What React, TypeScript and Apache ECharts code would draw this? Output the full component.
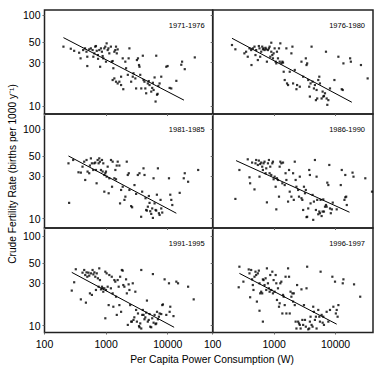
import React, { useEffect, useRef } from "react";
import * as echarts from "echarts";

const periods = ["1971-1976", "1976-1980", "1981-1985", "1986-1990", "1991-1995", "1996-1997"];
const xTickValues = [100, 1000, 10000];
const yTickValues = [10, 30, 50, 100];

// [power consumption W, crude fertility rate births per 1000 per year]
const pts1971: [number, number][] = [
  [203, 44.9], [267, 42.6], [303, 40.4], [365, 38.5], [385, 33.4], [424, 41.2], [455, 43], [480, 39.5], [495, 34.8], [495, 27.5],
  [532, 41.9], [565, 43], [603, 41.2], [620, 34.8], [645, 37.9], [665, 44.9], [684, 45.6], [705, 40.4], [735, 36.3], [740, 33.0],
  [774, 41.2], [800, 27], [825, 43], [855, 39.5], [878, 35.4], [900, 33.4], [935, 43], [970, 44.9], [995, 30.7], [1020, 48.8],
  [1060, 41.2], [1090, 43], [1127, 37.9], [1195, 44.9], [1235, 30.7], [1277, 31.2], [1310, 26], [1360, 39.5], [1410, 41.2], [1448, 44.9],
  [1490, 37.9], [1540, 41.9], [1277, 19.3], [1360, 20.1], [1448, 18.5], [1540, 17.7], [1641, 18.5], [1750, 17], [1900, 15.3], [1750, 21],
  [1860, 33.4], [2050, 30.7], [2108, 26], [2250, 22], [2320, 33.4], [2389, 43], [2550, 18.5], [2708, 21], [2780, 22.9], [2980, 20.1],
  [3069, 15.6], [3160, 32], [3290, 33.4], [3420, 28.2], [3480, 27], [3580, 22], [3720, 15.6], [3944, 35.7], [4050, 19.3], [4190, 18.5],
  [4330, 15.6], [4470, 13.8], [4750, 17.7], [4920, 18.8], [5068, 17], [5400, 14.4], [5600, 15.8], [5743, 18], [5900, 15], [6120, 20.6],
  [6350, 11.2], [6509, 35.7], [6700, 13.3], [6850, 13.6], [7050, 16.6], [7379, 17.7], [7850, 21], [9480, 27], [9950, 27.5], [10740, 15.8],
  [11420, 15.6], [13800, 18.9], [16600, 28.4], [17100, 30.7], [18900, 25.4], [27500, 34.2],
];
const pts1976: [number, number][] = [
  [206, 46.8], [234, 42], [328, 37.9], [350, 39.5], [372, 34.8], [397, 43], [423, 41.2], [428, 28.2], [450, 43], [479, 44.9],
  [497, 36.3], [510, 41.2], [543, 32], [564, 45.6], [578, 43], [593, 34.8], [616, 39.5], [640, 44.9], [656, 42], [673, 43],
  [698, 41.2], [726, 43.6], [744, 42], [763, 30.7], [793, 41.2], [823, 43], [844, 44.9], [865, 34.8], [899, 49.6], [899, 39.5],
  [934, 36.3], [957, 33.4], [981, 37.9], [1019, 43], [1059, 30.7], [1085, 29.4], [1112, 39.5], [1155, 33.4], [1200, 43], [1231, 30.7],
  [1262, 48.8], [1310, 29.4], [1361, 30.7], [1396, 30], [1431, 23.8], [1487, 19.3], [1583, 43], [1622, 17.7], [1686, 17], [1795, 23.8],
  [1910, 37.9], [1985, 44.9], [2036, 17.7], [2168, 24.9], [2308, 15.3], [2367, 17], [2618, 16.3], [2786, 30.7], [2969, 21], [3280, 33.4],
  [3367, 28.2], [3450, 29.4], [3590, 19.3], [3725, 16.3], [3819, 12.7], [3918, 17.7], [4070, 44.9], [4225, 18.5], [4445, 15.6], [4615, 17],
  [4790, 11.6], [4910, 15], [5030, 12.1], [5230, 19.3], [5435, 21], [5570, 17.7], [5930, 12.1], [6160, 14.4], [6315, 12.7], [6475, 12.9],
  [6730, 13.8], [6985, 39.5], [7160, 12.1], [7340, 10.3], [7630, 11.6], [8120, 15.6], [9580, 19.3], [11120, 34.8], [12620, 15.3], [13100, 15],
  [13430, 29.4], [17270, 33.4], [17750, 30.7], [25900, 28.2], [33300, 20.1],
];
const pts1981: [number, number][] = [
  [245, 41.4], [251, 15], [292, 45.1], [356, 32.9], [389, 32.6], [414, 38], [441, 43.2], [458, 27], [481, 45.1], [500, 33.5],
  [532, 32.1], [546, 39.1], [566, 47], [588, 41.4], [618, 34.9], [642, 41.4], [667, 42.2], [684, 34.9], [701, 24.8], [728, 45.1],
  [756, 41.4], [774, 47], [794, 43.2], [825, 34.9], [857, 45.1], [878, 33.5], [900, 41.4], [935, 30.7], [971, 32.1], [995, 33.5],
  [1020, 29.4], [935, 20], [1060, 38], [1100, 19.2], [1127, 28.2], [1200, 45.1], [1248, 22.7], [1277, 43.2], [1361, 28.2], [1413, 34.9],
  [1448, 27.5], [1486, 39.1], [1543, 43.2], [1641, 39.1], [1683, 14.8], [1750, 20.9], [1860, 22.7], [1983, 16.2], [2055, 17.6], [2163, 43.2],
  [2245, 30.7], [2333, 32.1], [2389, 20.9], [2548, 13.8], [2645, 13.4], [2887, 23.7], [3069, 18.9], [3268, 30.7], [3480, 32.1], [3705, 10.5],
  [3846, 20], [4045, 36.4], [4200, 30.7], [4363, 16.9], [4470, 12.5], [4585, 12.3], [4760, 13.6], [4940, 17.9], [5068, 15], [5200, 12.1],
  [5400, 11.3], [5600, 13], [5743, 10.2], [5890, 28.2], [6120, 14.8], [6350, 12.5], [6509, 12.3], [6670, 18.5], [6930, 36.4], [7190, 11.5],
  [7379, 11], [7650, 16.2], [7850, 13], [8150, 11.7], [10480, 28.2], [11000, 18.5], [11430, 16.2], [11860, 14.2], [15640, 19.4], [18200, 28.2],
  [18900, 32.1], [21430, 25.8], [31200, 34.9],
];
const pts1986: [number, number][] = [
  [234, 16.6], [272, 34.9], [372, 45.9], [397, 28.9], [407, 24.8], [438, 42.2], [479, 21.2], [497, 41.4], [510, 45.1], [543, 39.7],
  [564, 44.4], [578, 29.4], [593, 40.7], [616, 42.2], [640, 38], [656, 34.9], [673, 41.4], [698, 43.2], [726, 32.1], [744, 36.4],
  [763, 15.2], [793, 41.4], [823, 45.1], [844, 32.1], [865, 38], [899, 30.7], [934, 41.4], [957, 43.2], [981, 27.5], [1019, 29.4],
  [1059, 22.7], [1085, 12.7], [1112, 28.2], [1155, 27], [1200, 17.6], [1231, 38], [1262, 43.2], [1310, 41.4], [1361, 24.8], [1396, 42.2],
  [1487, 23.7], [1535, 32.1], [1583, 27], [1686, 15.5], [1750, 34.9], [1795, 20], [1910, 17.6], [2036, 32.1], [2090, 16.2], [2168, 43.2],
  [2240, 27], [2308, 22.7], [2460, 20.9], [2540, 17.6], [2618, 29.4], [2786, 16.9], [2880, 16.2], [2969, 12.5], [3060, 22.7], [3180, 19.2],
  [3280, 20.9], [3367, 10.4], [3450, 10.5], [3590, 13], [3725, 34.9], [3819, 30.7], [3918, 14.8], [4225, 18.4], [4330, 9.7], [4445, 15.5],
  [4615, 45.1], [4790, 12.5], [4910, 29.4], [5030, 16.2], [5230, 11.2], [5435, 12], [5570, 11.5], [5710, 16.2], [5930, 10.7], [6160, 12],
  [6315, 16.4], [6475, 12], [6730, 13.6], [6985, 14.2], [7160, 13.6], [7340, 25.2], [7630, 23.7], [7910, 39.7], [8120, 13], [8370, 11.5],
  [8700, 12.7], [9000, 15.1], [10440, 12.7], [12160, 23.7], [12620, 34.9], [13950, 16.2], [14400, 17.3], [14900, 17.6], [15230, 14.2], [14400, 30.7],
  [18900, 32.6], [19590, 29.4], [30500, 28.2], [39200, 20],
];
const pts1991: [number, number][] = [
  [277, 24.7], [303, 30.6], [322, 42.8], [389, 19.7], [414, 39.2], [441, 42], [458, 36.9], [470, 18.1], [481, 39.5], [495, 35.3],
  [516, 39.2], [532, 36.3], [546, 23], [566, 38.5], [588, 22.1], [603, 42], [620, 37.5], [645, 39.5], [667, 35.3], [684, 25.1],
  [705, 38.5], [735, 33.9], [756, 27.3], [774, 43.8], [794, 32.4], [825, 25.5], [857, 27.3], [878, 26.2], [900, 24], [935, 26.2],
  [971, 40.2], [971, 12.1], [995, 25.1], [1020, 38.5], [1060, 27.3], [1100, 17], [1127, 36.9], [1195, 26.2], [1235, 35.3], [1277, 23],
  [1310, 16.3], [1360, 32.4], [1410, 31.1], [1448, 21.1], [1490, 13.2], [1540, 32.4], [1600, 27.3], [1641, 17], [1690, 35.3], [1750, 14.3],
  [1800, 42], [1860, 41.3], [1900, 28.5], [1980, 27.3], [2108, 33], [2170, 23], [2250, 10.2], [2320, 29], [2389, 25.1], [2460, 17],
  [2550, 11.1], [2620, 11.1], [2708, 29.8], [2780, 11.6], [2870, 12.4], [2980, 24], [3069, 15], [3160, 11.1], [3290, 13.7], [3420, 9.9],
  [3480, 9.6], [3580, 10.6], [3720, 9.3], [3720, 42], [3860, 13.2], [3944, 15], [4050, 13.2], [4190, 11.8], [4330, 12.4], [4470, 14],
  [4600, 19.1], [4750, 11.1], [4920, 11.6], [5068, 13.5], [5200, 9.75], [5400, 9.6], [5600, 12.1], [5743, 37.8], [5900, 10.8], [6120, 13.2],
  [6350, 10.4], [6509, 10.6], [6700, 14.3], [6930, 11.8], [7190, 12.6], [7379, 13.7], [7850, 13.5], [8150, 17], [8363, 17.3], [8900, 33],
  [9480, 13.2], [10480, 29.8], [10740, 14.3], [11000, 16.3], [12400, 12.8], [13800, 31.1], [14700, 29.8], [21430, 27.3], [26400, 19.7],
];
const pts1996: [number, number][] = [
  [265, 26.9], [272, 45.7], [316, 31.1], [386, 42.6], [397, 38.5], [407, 20.8], [423, 42], [438, 33], [450, 28.5], [461, 25.1],
  [479, 35.3], [497, 40.2], [510, 36.9], [524, 18.6], [543, 38.5], [564, 41.3], [578, 29.8], [578, 14.7], [593, 23], [616, 24],
  [640, 23], [656, 11.1], [656, 33], [673, 32.4], [698, 28.5], [726, 33.9], [744, 25.1], [763, 43.8], [793, 29.8], [823, 26.2],
  [844, 24], [865, 36.9], [899, 25.1], [934, 40.2], [957, 23], [981, 32.4], [1019, 24], [1059, 36.9], [1085, 29.8], [1112, 19.4],
  [1155, 26.2], [1200, 16.3], [1231, 17.8], [1262, 29.8], [1310, 31.1], [1361, 13.7], [1396, 22.1], [1431, 21.1], [1487, 17], [1535, 35.3],
  [1583, 13.7], [1686, 43.8], [1750, 35.3], [1795, 13.7], [1850, 24], [1910, 21.1], [1985, 23], [2036, 18.6], [2090, 23], [2168, 17],
  [2240, 11.1], [2308, 9.3], [2367, 28.5], [2460, 11.1], [2540, 10.6], [2618, 10.2], [2700, 9.3], [2786, 25.5], [2880, 11.6], [2969, 10.2],
  [3060, 17], [3180, 11.6], [3280, 9.75], [3367, 26.2], [3450, 45.7], [3590, 9.1], [3725, 9.3], [3819, 11.1], [3918, 12.6], [4070, 10.2],
  [4225, 9.75], [4330, 16.3], [4445, 14.3], [4615, 11.6], [4790, 12.6], [4910, 9.3], [5230, 15], [5435, 12.6], [5570, 11.1], [5710, 40.2],
  [5930, 13.2], [6160, 10.8], [6315, 12.6], [6475, 10.2], [7160, 14.3], [7630, 11.1], [8120, 15], [8870, 35.3], [9210, 16.3], [9800, 31.1],
  [10110, 13.7], [10440, 15], [10800, 12.6], [11120, 17], [13100, 29.8], [13430, 33], [20000, 29], [25200, 21.1],
];

// regression lines: [W, rate] at the two ends
const fit1971: [number, number][] = [[203, 56.4], [18360, 11.6]];
const fit1976: [number, number][] = [[206, 55.5], [18400, 11.0]];
const fit1981: [number, number][] = [[245, 50], [13800, 11.5]];
const fit1986: [number, number][] = [[240, 44.4], [16870, 11.8]];
const fit1991: [number, number][] = [[277, 39.5], [12700, 9.6]];
const fit1996: [number, number][] = [[272, 38.5], [10440, 10.4]];

const panelPoints = [pts1971, pts1976, pts1981, pts1986, pts1991, pts1996];
const panelFits = [fit1971, fit1976, fit1981, fit1986, fit1991, fit1996];

// axis extents
const colXMax = [53700, 40700];
const rowYRange: [number, number][] = [[8.17, 113.5], [7.87, 146.9], [8.39, 123.9]];

// layout
const WIDTH = 383;
const HEIGHT = 371;
const colEdges = [44.5, 212.7, 373];
const rowEdges = [10, 114, 228, 332.5];
const FONT = 'Arial, "Liberation Sans", Helvetica, sans-serif';

const lg = (v: number) => Math.log10(v);
const fmt = (v: number) => String(Math.round(Math.pow(10, v)));

function buildOption() {
  const grid: any[] = [];
  const xAxis: any[] = [];
  const yAxis: any[] = [];
  const series: any[] = [];
  const graphic: any[] = [];
  for (let i = 0; i < 6; i++) {
    const r = Math.floor(i / 2);
    const c = i % 2;
    grid.push({
      left: colEdges[c],
      top: rowEdges[r],
      width: colEdges[c + 1] - colEdges[c],
      height: rowEdges[r + 1] - rowEdges[r],
      show: true,
      borderColor: "#222",
      borderWidth: 1.5,
      backgroundColor: "transparent",
      containLabel: false,
      outerBoundsMode: "none",
    });
    const xt = xTickValues.map(lg);
    const yt = yTickValues.map(lg);
    xAxis.push({
      type: "value",
      gridIndex: i,
      min: 2,
      max: lg(colXMax[c]),
      axisLine: { show: false },
      splitLine: { show: false },
      axisTick: { show: true, length: 2, customValues: xt, lineStyle: { color: "#666", width: 1 } },
      axisLabel: {
        show: r === 2,
        customValues: xt,
        formatter: fmt,
        fontSize: 10.5,
        fontFamily: FONT,
        color: "#000",
        margin: 6,
        hideOverlap: false,
        showMinLabel: true,
      },
    });
    yAxis.push({
      type: "value",
      gridIndex: i,
      min: lg(rowYRange[r][0]),
      max: lg(rowYRange[r][1]),
      axisLine: { show: false },
      splitLine: { show: false },
      axisTick: { show: true, length: 2, customValues: yt, lineStyle: { color: "#666", width: 1 } },
      axisLabel: {
        show: c === 0,
        customValues: yt,
        formatter: fmt,
        fontSize: 10.5,
        fontFamily: FONT,
        color: "#000",
        margin: 4,
        hideOverlap: false,
      },
    });
    series.push({
      type: "scatter",
      xAxisIndex: i,
      yAxisIndex: i,
      symbol: "rect",
      symbolSize: 2.2,
      itemStyle: { color: "#000" },
      data: panelPoints[i].map(([w, b]) => [lg(w), lg(b)]),
    });
    series.push({
      type: "line",
      xAxisIndex: i,
      yAxisIndex: i,
      symbol: "none",
      lineStyle: { color: "#000", width: 1 },
      data: panelFits[i].map(([w, b]) => [lg(w), lg(b)]),
    });
    graphic.push({
      type: "text",
      x: colEdges[c + 1] - 8,
      y: rowEdges[r] + 15,
      style: {
        text: periods[i],
        align: "right",
        verticalAlign: "middle",
        fontSize: 7.5,
        fontFamily: FONT,
        fill: "#000",
      },
    });
  }
  graphic.push({
    type: "text",
    x: 212,
    y: 359,
    style: {
      text: "Per Capita Power Consumption (W)",
      align: "center",
      verticalAlign: "middle",
      fontSize: 10.3,
      fontFamily: FONT,
      fill: "#000",
    },
  });
  graphic.push({
    type: "text",
    x: 12,
    y: 174,
    rotation: Math.PI / 2,
    style: {
      text: "Crude Fertility Rate (births per 1000 y\u207B\u00B9)",
      align: "center",
      verticalAlign: "middle",
      fontSize: 10.2,
      fontFamily: FONT,
      fill: "#000",
    },
  });
  return {
    animation: false,
    backgroundColor: "#fff",
    grid,
    xAxis,
    yAxis,
    series,
    graphic,
  };
}

export default function App() {
  const ref = useRef<HTMLDivElement>(null);
  useEffect(() => {
    if (!ref.current) return;
    const chart = echarts.init(ref.current, undefined, { renderer: "svg" });
    chart.setOption(buildOption());
    return () => chart.dispose();
  }, []);
  return (
    <div
      ref={ref}
      style={{ position: "fixed", left: 0, top: 0, width: WIDTH, height: HEIGHT, background: "#fff" }}
    />
  );
}
